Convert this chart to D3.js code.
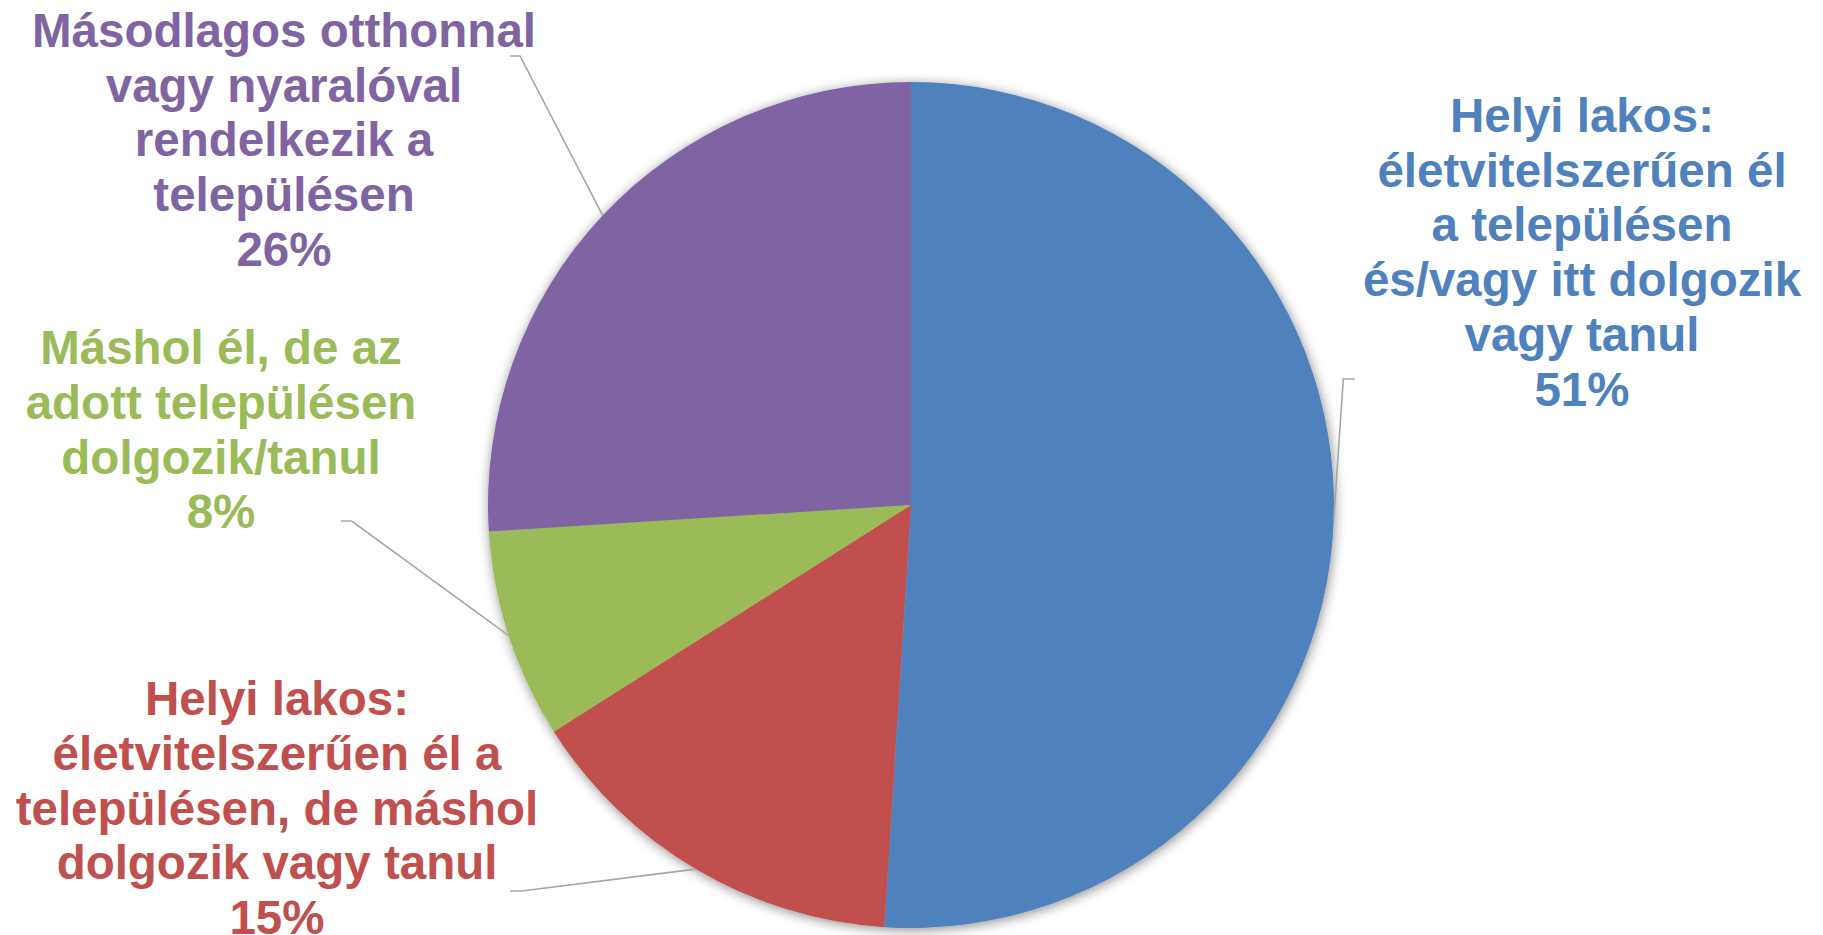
<!DOCTYPE html>
<html>
<head>
<meta charset="utf-8">
<script src="https://cdn.jsdelivr.net/npm/d3@7"></script>
<style>
  html, body { margin: 0; padding: 0; background: #fff; overflow: hidden; }
  .label { font-family: "Liberation Sans", Arial, sans-serif; font-weight: bold; font-size: 47.5px; }
</style>
</head>
<body>
<div id="chart"></div>
<script>
// slices, clockwise from 12 o'clock
const categories = [
    ["Helyi lakos:", "életvitelszerűen él", "a településen", "és/vagy itt dolgozik", "vagy tanul"],
    ["Helyi lakos:", "életvitelszerűen él a", "településen, de máshol", "dolgozik vagy tanul"],
    ["Máshol él, de az", "adott településen", "dolgozik/tanul"],
    ["Másodlagos otthonnal", "vagy nyaralóval", "rendelkezik a", "településen"]
];
const values = [51, 15, 8, 26];
const colors = ["#4F81BD", "#C0504D", "#9BBB59", "#8064A2"];

const width = 1823, height = 935;
const center = { x: 911, y: 505 };
const radius = 423;
const lineHeight = 54.8;

// label anchors (centre of first baseline) and leader start / elbow
const labelLayout = [
    { x: 1582, y: 131.8, start: [1355, 379], elbow: [1343.3, 379] },
    { x: 277, y: 715, start: [510, 891], elbow: [521.7, 891] },
    { x: 221, y: 364, start: [340.7, 521], elbow: [351.7, 521] },
    { x: 284, y: 46.7, start: [510, 56], elbow: [520, 56] }
];

const svg = d3.select("#chart")
    .append("svg")
    .attr("width", width)
    .attr("height", height);

const defs = svg.append("defs");
defs.append("filter")
    .attr("id", "shadow")
    .attr("x", "-10%").attr("y", "-10%")
    .attr("width", "120%").attr("height", "120%")
    .append("feDropShadow")
    .attr("dx", 1)
    .attr("dy", 2)
    .attr("stdDeviation", 6)
    .attr("flood-color", "#000")
    .attr("flood-opacity", 0.45);

const pie = d3.pie().sort(null).value(d => d);
const arcs = pie(values);

const arc = d3.arc().innerRadius(0).outerRadius(radius);
const edge = d3.arc().innerRadius(radius).outerRadius(radius);

const g = svg.append("g")
    .attr("transform", `translate(${center.x},${center.y})`);

g.append("g")
    .attr("filter", "url(#shadow)")
    .selectAll("path")
    .data(arcs)
    .join("path")
    .attr("d", arc)
    .attr("fill", (d, i) => colors[i]);

// leader lines
svg.append("g")
    .selectAll("polyline")
    .data(arcs)
    .join("polyline")
    .attr("fill", "none")
    .attr("stroke", "#A6A6A6")
    .attr("stroke-width", 1.6)
    .attr("points", (d, i) => {
        const l = labelLayout[i];
        const c = edge.centroid(d);
        return [l.start, l.elbow, [c[0] + center.x, c[1] + center.y]].map(p => p.join(",")).join(" ");
    });

// labels
const labels = svg.append("g")
    .selectAll("text")
    .data(arcs)
    .join("text")
    .attr("class", "label")
    .attr("text-anchor", "middle")
    .attr("fill", (d, i) => colors[i])
    .attr("x", (d, i) => labelLayout[i].x)
    .attr("y", (d, i) => labelLayout[i].y);

labels.each(function(d, i) {
    const lines = categories[i].concat([d.data + "%"]);
    d3.select(this).selectAll("tspan")
        .data(lines)
        .join("tspan")
        .attr("x", labelLayout[i].x)
        .attr("dy", (t, j) => j === 0 ? 0 : lineHeight)
        .text(t => t);
});
</script>
</body>
</html>
